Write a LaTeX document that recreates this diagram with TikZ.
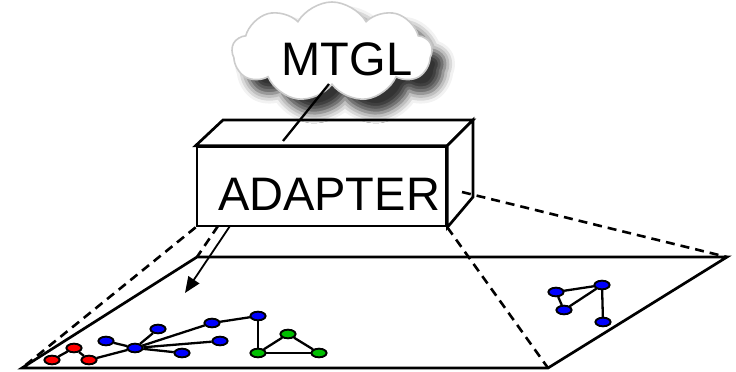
\documentclass[tikz,border=0pt]{standalone}
\usepackage{fontspec}
\setmainfont{Liberation Sans}
\usetikzlibrary{shapes.symbols,shapes.geometric,shadows.blur,arrows.meta}

\begin{document}
\begin{tikzpicture}[x=1pt,y=-1pt,
  solid edge/.style={line width=2.7pt, line join=miter},
  proj/.style={line width=2.6pt, dash pattern=on 9pt off 6pt},
  link/.style={line width=2.3pt},
  vtx/.style={ellipse, draw, line width=1.8pt, minimum width=15pt, minimum height=8.5pt, inner sep=0pt},
  rv/.style={vtx, fill=red},
  bv/.style={vtx, fill=blue},
  gv/.style={vtx, fill=green!75!black},
  big/.style={font=\fontsize{47}{56}\selectfont, inner sep=0pt}]
\useasboundingbox (0,0) rectangle (736,372);

% ground plane
\draw[solid edge] (197,257) coordinate (pTL) -- (727,257) coordinate (pTR)
  -- (548,368) coordinate (pBR) -- (22,368) coordinate (pBL) -- cycle;

% adapter box: front face, top face, side face
\node[draw, fill=white, line width=2.7pt, minimum width=249pt, minimum height=79pt,
      inner sep=0pt] (adapter) at (321.5,186.5) {};
\draw[solid edge, fill=white] (adapter.north west) -- (223,120) coordinate (bTL)
  -- (473,120) coordinate (bTR) -- (adapter.north east) -- cycle;
\draw[solid edge, fill=white] (adapter.north east) -- (bTR) -- (473,197) coordinate (bBR)
  -- (adapter.south east) -- cycle;
\node[big, anchor=base] (adaptertext) at (329,210) {ADAPTER};

% projection lines
\coordinate (sideIn) at (462,192);
\coordinate (botIn) at (218,226);
\draw[proj] (adapter.south west) -- (pBL);
\draw[proj] (botIn) -- (pTL);
\draw[proj] (sideIn) -- (pTR);
\draw[proj] (adapter.south east) -- (pBR);

% arrow into the plane
\coordinate (arrS) at (230,226);
\coordinate (arrE) at (185,293);
\draw[line width=1.8pt, -{Triangle[length=16pt,width=13pt]}] (arrS) -- (arrE);

% cloud
\node[cloud, cloud puffs=9, cloud puff arc=120, aspect=2, draw=gray!40,
      line width=1.6pt, fill=white, minimum width=200pt, minimum height=100pt,
      blur shadow={shadow xshift=13pt, shadow yshift=-14pt, shadow blur radius=10pt,
      shadow opacity=80}] (cloud) at (332,52) {};
\node[big, anchor=base] (mtgl) at (347,75) {MTGL};
\coordinate (cTail) at (329,84);
\coordinate (cHead) at (283,141);
\draw[link] (cTail) -- (cHead);

% graph on the left
\node[rv] (r1) at (52,360) {};
\node[rv] (r2) at (74,348) {};
\node[rv] (r3) at (89,360) {};
\node[bv] (bl) at (106,341) {};
\node[bv] (hub) at (135,348) {};
\node[bv] (bu) at (158,329) {};
\node[bv] (bf) at (212,323) {};
\node[bv] (bt) at (258,316) {};
\node[bv] (bm) at (220,341) {};
\node[bv] (bb) at (182,353) {};
\node[gv] (g1) at (258,353) {};
\node[gv] (g2) at (288,334) {};
\node[gv] (g3) at (319,353) {};

% graph on the right
\node[bv] (q1) at (556,292) {};
\node[bv] (q2) at (602,285) {};
\node[bv] (q3) at (564,310) {};
\node[bv] (q4) at (603,322) {};

% edges, with the vertices drawn again on top of them
\foreach \a/\b in {r1/r2,r2/r3,r3/hub,hub/bl,hub/bu,hub/bf,hub/bm,hub/bb,bf/bt,bt/g1,g1/g2,g2/g3,g1/g3,q1/q2,q1/q3,q3/q2,q2/q4}
  \draw[link] (\a) -- (\b);
\foreach \n in {r1,r2,r3}
  \node[rv] at (\n) {};
\foreach \n in {bl,hub,bu,bf,bt,bm,bb,q1,q2,q3,q4}
  \node[bv] at (\n) {};
\foreach \n in {g1,g2,g3}
  \node[gv] at (\n) {};
\end{tikzpicture}
\end{document}
